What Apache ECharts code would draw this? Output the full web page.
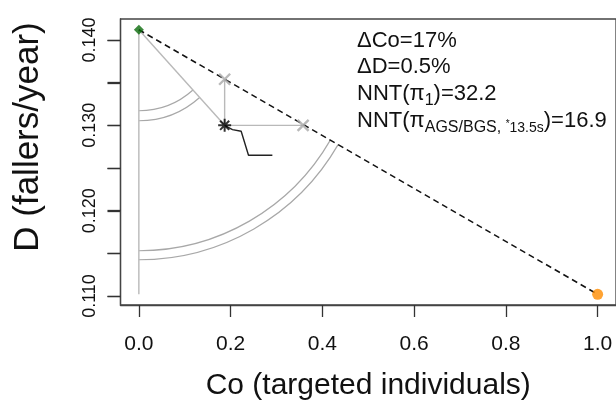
<!DOCTYPE html>
<html>
<head>
  <meta charset="UTF-8">
  <title>Co vs D</title>
  <style>
    * { margin:0; padding:0; }
    body { background:#fff; }
    #chart { width:616px; height:412px; }
  </style>
  <script src="https://cdn.jsdelivr.net/npm/echarts@6/dist/echarts.min.js"></script>
</head>
<body>
  <div id="chart"></div>
  <script>
    // data
    const frontierCo = [0, 1];               // green start, orange end
    const frontierD = [0.1412, 0.1102];
    const chosen = [0.187, 0.1300];          // asterisk
    const crossCo = [0.187, 0.358];
    const crossD = [0.1354, 0.1300];
    const pathCo = [0.187, 0.195, 0.204, 0.223, 0.239, 0.291];
    const pathD = [0.1300, 0.12975, 0.1295, 0.1293, 0.1265, 0.1265];
    const xTicks = [0, 0.2, 0.4, 0.6, 0.8, 1.0];
    const yTicks = [0.110, 0.115, 0.120, 0.125, 0.130, 0.135, 0.140];
    const yLabels = [0.110, 0.120, 0.130, 0.140];
    const notes = [
      'ΔCo=17%',
      'ΔD=0.5%',
      'NNT(π{s|1})=32.2',
      'NNT(π{s|AGS/BGS, }{a|*}{u|13.5s})=16.9'
    ];

    const FONT = '"Liberation Sans", Arial, Helvetica, sans-serif';
    const GRAY = '#b9b9b9';
    const BOX = '#444';
    const X_MIN = -0.04, X_MAX = 1.04;
    const Y_MIN = 0.108945, Y_MAX = 0.142461;
    const start = [frontierCo[0], frontierD[0]];
    const end = [frontierCo[1], frontierD[1]];

    function grayLine(a, b) {
      return { type: 'line', data: [a, b], symbol: 'none', silent: true, z: 1,
        lineStyle: { color: GRAY, width: 1.4 } };
    }

    const arcRadii = [[81, 91], [221, 230]];
    const tickStyle = { color: '#333', width: 1.3 };

    const chart = echarts.init(document.getElementById('chart'));
    chart.setOption({
      animation: false,
      grid: { left: 120.5, top: 19, width: 498, height: 286, show: true,
        borderColor: BOX, borderWidth: 1.3, backgroundColor: 'transparent' },
      xAxis: {
        type: 'value', min: X_MIN, max: X_MAX,
        axisLine: { show: true, onZero: false, lineStyle: { color: BOX, width: 1.3 } },
        splitLine: { show: false },
        axisTick: { show: true, customValues: xTicks, length: 12, lineStyle: tickStyle },
        axisLabel: { customValues: xTicks, formatter: v => v.toFixed(1), fontSize: 21,
          fontFamily: FONT, color: '#111', margin: 29 },
        name: 'Co (targeted individuals)', nameLocation: 'middle', nameGap: 66,
        nameTextStyle: { fontSize: 30, fontFamily: FONT, color: '#111' }
      },
      yAxis: {
        type: 'value', min: Y_MIN, max: Y_MAX,
        axisLine: { show: true, onZero: false, lineStyle: { color: BOX, width: 1.3 } },
        splitLine: { show: false },
        axisTick: { show: true, customValues: yTicks, length: 13, lineStyle: tickStyle },
        axisLabel: { customValues: yLabels, formatter: v => v.toFixed(3), rotate: 90, fontSize: 18,
          fontFamily: FONT, color: '#111', margin: 21 }
      },
      graphic: [
        { id: 'ytitle', type: 'text', x: 28, y: 137, rotation: Math.PI / 2,
          style: { text: 'D (fallers/year)', font: '35px ' + FONT, fill: '#111',
            textAlign: 'center', textVerticalAlign: 'middle' } }
      ].concat(notes.map((t, i) => ({
        id: 'note' + i, type: 'text', x: 357, y: [41, 67, 94, 121][i],
        style: { text: t, font: '22px ' + FONT, fill: '#111', textVerticalAlign: 'middle',
          rich: {
            s: { fontSize: 16, fontFamily: FONT, padding: [14, 0, 0, 0], fill: '#111' },
            a: { fontSize: 10, fontFamily: FONT, padding: [6, 0, 0, 0], fill: '#111' },
            u: { fontSize: 14, fontFamily: FONT, padding: [14, 0, 0, 0], fill: '#111' }
          } }
      }))),
      series: [
        grayLine(start, [frontierCo[0], frontierD[1]]),
        grayLine(start, chosen),
        grayLine(chosen, [crossCo[0], crossD[0]]),
        grayLine(chosen, [crossCo[1], crossD[1]]),
        {
          type: 'custom', silent: true, z: 1,
          data: [start.concat(chosen), start.concat(end)],
          encode: { x: [0, 2], y: [1, 3] },
          renderItem: function (params, api) {
            const c = api.coord([api.value(0), api.value(1)]);
            const t = api.coord([api.value(2), api.value(3)]);
            const ang = Math.atan2(t[1] - c[1], t[0] - c[0]);
            return { type: 'group', children: arcRadii[params.dataIndex].map(r => ({
              type: 'arc',
              shape: { cx: c[0], cy: c[1], r: r, startAngle: ang, endAngle: Math.PI / 2, clockwise: true },
              style: { stroke: '#a8a8a8', fill: null, lineWidth: 1.2 }
            })) };
          }
        },
        {
          type: 'line', data: [start, end], symbol: 'none', silent: true, z: 2,
          lineStyle: { color: '#111', width: 1.5, type: [6, 4] }
        },
        {
          type: 'line', data: pathCo.map((x, i) => [x, pathD[i]]), symbol: 'none', silent: true, z: 3,
          lineStyle: { color: '#222', width: 1.4 }
        },
        {
          type: 'scatter', data: crossCo.map((x, i) => [x, crossD[i]]), z: 4,
          symbol: 'path://M0,0L10,10M10,0L0,10', symbolSize: 11,
          itemStyle: { color: 'transparent', borderColor: '#a8a8a8', borderWidth: 2.4 }
        },
        {
          type: 'scatter', data: [chosen], z: 5,
          symbol: 'path://M5,0L5,10M0,5L10,5M1.5,1.5L8.5,8.5M8.5,1.5L1.5,8.5', symbolSize: 13,
          itemStyle: { color: 'transparent', borderColor: '#000', borderWidth: 2 }
        },
        {
          type: 'scatter', data: [start], z: 5, symbol: 'diamond', symbolSize: 10,
          itemStyle: { color: '#0b6b0b' }
        },
        {
          type: 'scatter', data: [end], z: 5, symbol: 'circle', symbolSize: 11,
          itemStyle: { color: '#ff8c00' }
        }
      ]
    });

    // y ticks do not show on the left frame here, so draw them from the axis scale
    chart.setOption({
      graphic: yTicks.map((v, i) => {
        const p = chart.convertToPixel({ xAxisIndex: 0, yAxisIndex: 0 }, [X_MIN, v]);
        const y = Math.round(p[1]) + 0.5;
        return { id: 'ytick' + i, type: 'line', silent: true,
          shape: { x1: p[0] - 13, y1: y, x2: p[0], y2: y },
          style: { stroke: tickStyle.color, lineWidth: tickStyle.width } };
      })
    });
  </script>
</body>
</html>
